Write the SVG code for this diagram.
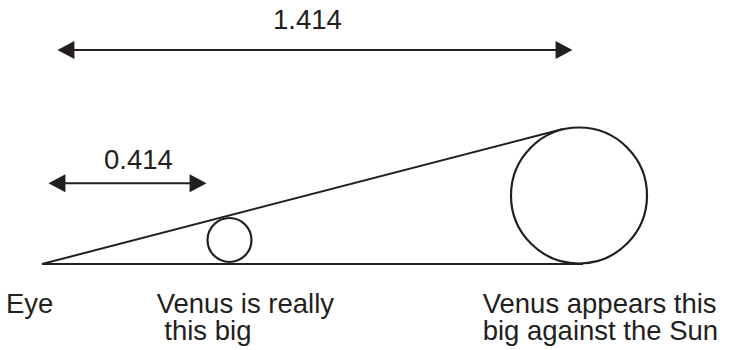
<svg xmlns="http://www.w3.org/2000/svg" width="730" height="350" viewBox="0 0 730 350">
<style>
.ln{stroke:#231f20;stroke-width:2;fill:none}
.c{stroke:#231f20;stroke-width:2.2;fill:#fff}
.t{font-family:"Liberation Sans",Arial,sans-serif;font-size:27.5px;fill:#231f20}
</style>
<defs>
<marker id="ah" markerUnits="userSpaceOnUse" markerWidth="18" markerHeight="18" viewBox="0 0 16 17" refX="2" refY="8.5" orient="auto-start-reverse">
<path d="M0,0 L16,8.5 L0,17 z" fill="#231f20"/>
</marker>
</defs>
<rect width="730" height="350" fill="#fff"/>
<g id="connectors">
<line class="ln" x1="42" y1="264" x2="583" y2="264"/>
<line class="ln" x1="42" y1="264" x2="563" y2="129"/>
<line class="ln" x1="72.3" y1="50" x2="557.7" y2="50" marker-start="url(#ah)" marker-end="url(#ah)"/>
<line class="ln" x1="63.3" y1="183.3" x2="191.7" y2="183.3" marker-start="url(#ah)" marker-end="url(#ah)"/>
</g>
<g id="venus">
<circle class="c" cx="229.5" cy="240" r="22"/>
</g>
<g id="sun">
<circle class="c" cx="579" cy="195.5" r="68"/>
</g>
<g id="label-1414"><text class="t" x="273" y="28.5">1.414</text></g>
<g id="label-0414"><text class="t" x="104" y="168.5">0.414</text></g>
<g id="label-eye"><text class="t" x="6" y="313">Eye</text></g>
<g id="label-venus"><text class="t" x="156.7" y="313">Venus is really</text><text class="t" x="156.7" y="340" xml:space="preserve"> this big</text></g>
<g id="label-sun"><text class="t" x="482.7" y="313">Venus appears this</text><text class="t" x="482.7" y="340">big against the Sun</text></g>
</svg>
